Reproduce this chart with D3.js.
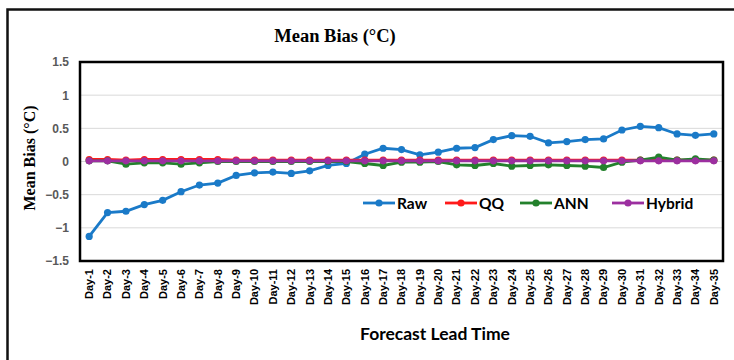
<!DOCTYPE html>
<html><head><meta charset="utf-8">
<script src="https://cdn.jsdelivr.net/npm/d3@7"></script>
<style>body{margin:0;background:#fff}svg{display:block}</style>
</head><body>
<svg id="c" width="734" height="360"></svg>
<script>
const days = Array.from({length:35},(_,i)=>"Day-"+(i+1));
const raw = [-1.13,-0.77,-0.75,-0.65,-0.585,-0.455,-0.355,-0.325,-0.21,-0.17,-0.16,-0.18,-0.14,-0.06,-0.03,0.11,0.2,0.18,0.1,0.14,0.2,0.21,0.33,0.39,0.38,0.28,0.3,0.33,0.34,0.475,0.53,0.51,0.415,0.395,0.415];
const qq = [0.03,0.03,0.02,0.03,0.03,0.03,0.03,0.03,0.02,0.02,0.02,0.02,0.02,0.02,0.02,0.02,0.02,0.02,0.02,0.02,0.02,0.02,0.02,0.02,0.02,0.02,0.02,0.02,0.02,0.02,0.02,0.02,0.02,0.02,0.02];
const ann = [0.01,0.01,-0.04,-0.02,-0.02,-0.04,-0.02,0.0,0.0,0.0,0.0,0.0,0.0,0.0,0.0,-0.03,-0.06,-0.01,-0.01,0.0,-0.05,-0.06,-0.03,-0.07,-0.06,-0.05,-0.06,-0.07,-0.09,-0.01,0.02,0.065,0.02,0.04,0.02];
const hybrid = [0.01,0.01,0.01,0.01,0.01,0.01,0.01,0.01,0.01,0.01,0.01,0.01,0.01,0.01,0.01,0.01,0.01,0.01,0.01,0.01,0.01,0.01,0.01,0.01,0.01,0.01,0.01,0.01,0.01,0.01,0.01,0.01,0.01,0.01,0.01];
const yTicks = [-1.5,-1,-0.5,0,0.5,1,1.5];
const seriesNames = ["Raw","QQ","ANN","Hybrid"];
const seriesColors = ["#1a7ac8","#ff1a1a","#23812c","#9c2fa0"];
const seriesData = [raw,qq,ann,hybrid];

const svg = d3.select("#c");
const M = {l:80,t:62,r:723,b:261};
const x = d3.scaleBand().domain(days).range([M.l,M.r]);
const y = d3.scaleLinear().domain([-1.5,1.5]).range([M.b,M.t]);
const cx = d => x(d)+x.bandwidth()/2;

// outer frame
svg.append("rect").attr("x",7.5).attr("y",9.5).attr("width",760).attr("height",400)
  .attr("fill","none").attr("stroke","#111").attr("stroke-width",2.5);

// gridlines
svg.append("g").selectAll("line").data(yTicks.filter(v=>v>-1.5&&v<1.5)).join("line")
  .attr("x1",M.l).attr("x2",M.r).attr("y1",d=>y(d)).attr("y2",d=>y(d))
  .attr("stroke","#d9d9d9").attr("stroke-width",1);

// y axis labels
const ya = svg.append("g").attr("transform",`translate(${M.l},0)`)
  .call(d3.axisLeft(y).tickValues(yTicks).tickSize(0).tickPadding(11).tickFormat(d3.format("")));
ya.select(".domain").remove();
ya.selectAll("text").attr("font-family","Liberation Sans, Arial, sans-serif").attr("font-weight","bold")
  .attr("font-size",12).attr("fill","#595959");

// x axis labels
const xa = svg.append("g").attr("transform",`translate(0,${M.b})`)
  .call(d3.axisBottom(x).tickSize(0).tickPadding(0));
xa.select(".domain").remove();
xa.selectAll("text").attr("font-family","Liberation Sans Narrow, Arial Narrow, Liberation Sans, sans-serif")
  .attr("font-weight","bold").attr("font-size",11).attr("fill","#000")
  .attr("transform","rotate(-90)").attr("text-anchor","end").attr("dy","0.35em").attr("x",-8).attr("y",0);

// series
const line = d3.line().x((d,i)=>cx(days[i])).y(d=>y(d));
seriesData.forEach((data,k)=>{
  const g = svg.append("g");
  g.append("path").attr("d",line(data)).attr("fill","none").attr("stroke",seriesColors[k]).attr("stroke-width",2.8);
  g.selectAll("circle").data(data).join("circle").attr("cx",(d,i)=>cx(days[i])).attr("cy",d=>y(d))
    .attr("r",3.6).attr("fill",seriesColors[k]);
});

// plot border
svg.append("rect").attr("x",M.l).attr("y",M.t).attr("width",M.r-M.l).attr("height",M.b-M.t)
  .attr("fill","none").attr("stroke","#000").attr("stroke-width",2.5);

// legend
const legX = [363,445,520,612];
seriesNames.forEach((n,k)=>{
  const g = svg.append("g").attr("transform",`translate(${legX[k]},203)`);
  g.append("line").attr("x1",0).attr("x2",32).attr("stroke",seriesColors[k]).attr("stroke-width",2.8);
  g.append("circle").attr("cx",16).attr("r",3.6).attr("fill",seriesColors[k]);
  g.append("text").attr("x",34).attr("dy","0.36em").text(n)
    .attr("font-family","Lato, Open Sans, sans-serif").attr("font-weight","bold").attr("font-size",15.5).attr("fill","#000");
});

// title
svg.append("text").attr("x",335).attr("y",42).attr("text-anchor","middle")
  .attr("font-family","Liberation Serif, Times New Roman, serif").attr("font-weight","bold").attr("font-size",18.5)
  .text("Mean Bias (°C)");
// y title
svg.append("text").attr("transform","translate(35,158) rotate(-90)").attr("text-anchor","middle")
  .attr("font-family","Liberation Serif, Times New Roman, serif").attr("font-weight","bold").attr("font-size",16)
  .text("Mean Bias (°C)");
// x title
svg.append("text").attr("x",435).attr("y",340).attr("text-anchor","middle")
  .attr("font-family","Lato, Open Sans, sans-serif").attr("font-weight","bold").attr("font-size",17.5)
  .text("Forecast Lead Time");
</script>
</body></html>
